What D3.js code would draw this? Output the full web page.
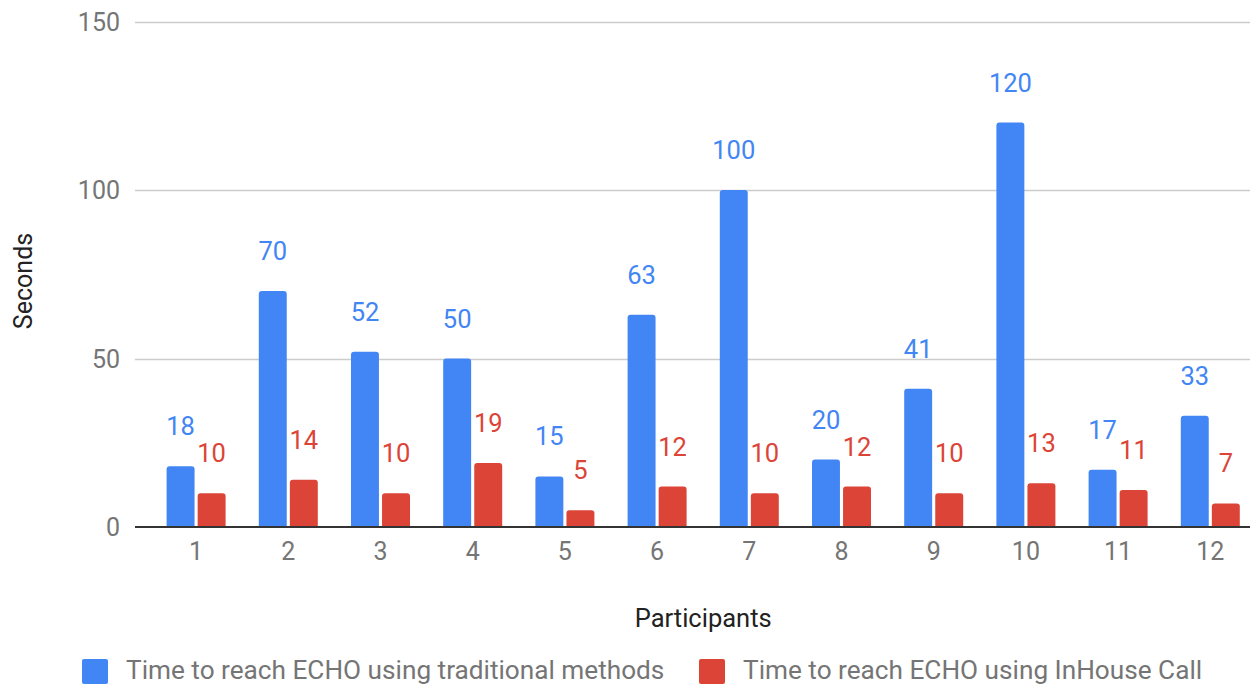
<!DOCTYPE html>
<html>
<head>
<meta charset="utf-8">
<script src="https://cdn.jsdelivr.net/npm/d3@7"></script>
<style>
  html, body { margin: 0; padding: 0; background: #fff; }
  svg { display: block; font-family: Roboto, "Noto Sans", Arial, sans-serif; }
</style>
</head>
<body>
<svg id="chart" width="1250" height="686"></svg>
<script>
// Participants on the x axis
const participants = ["1", "2", "3", "4", "5", "6", "7", "8", "9", "10", "11", "12"];
// Seconds needed to reach ECHO, per participant
const traditional = [18, 70, 52, 50, 15, 63, 100, 20, 41, 120, 17, 33];
const inHouse = [10, 14, 10, 19, 5, 12, 10, 12, 10, 13, 11, 7];
const seriesNames = [
  "Time to reach ECHO using traditional methods",
  "Time to reach ECHO using InHouse Call"
];
const seriesColors = ["#4285f4", "#db4437"];
const yTicks = [0, 50, 100, 150];

const series = [traditional, inHouse];

const svg = d3.select("#chart");

const gridLeft = 135, gridRight = 1250;
const y = d3.scaleLinear().domain([0, 150]).range([527, 21.5]);
const x0 = d3.scaleBand().domain(participants).range([150, 1256.4]).padding(0);
const groupW = 59;
const x1 = d3.scaleBand().domain(d3.range(series.length)).range([0, groupW]).paddingInner(0.1);

// horizontal gridlines
svg.append("g").selectAll("line")
  .data(yTicks.filter(t => t !== 0))
  .join("line")
  .attr("x1", gridLeft).attr("x2", gridRight)
  .attr("y1", d => Math.round(y(d)) + 0.5).attr("y2", d => Math.round(y(d)) + 0.5)
  .attr("stroke", "#cccccc").attr("stroke-width", 1.5);

// y tick labels
svg.append("g").selectAll("text")
  .data(yTicks)
  .join("text")
  .attr("x", 120)
  .attr("y", d => y(d) + 9)
  .attr("text-anchor", "end")
  .attr("font-size", 25)
  .attr("fill", "#757575")
  .text(d => d);

// bars
const rows = participants.map((p, i) => ({ p, vals: series.map(s => s[i]) }));
const groups = svg.append("g").selectAll("g")
  .data(rows)
  .join("g")
  .attr("transform", d => `translate(${x0(d.p) + x0.bandwidth() / 2 - groupW / 2},0)`);

groups.selectAll("path.bar")
  .data(d => d.vals.map((v, k) => ({ v, k })))
  .join("path")
  .attr("class", "bar")
  .attr("fill", d => seriesColors[d.k])
  .attr("d", d => {
    const bx = x1(d.k), bw = x1.bandwidth();
    const top = y(d.v), bot = y(0), r = 3;
    return `M${bx},${bot} L${bx},${top + r} Q${bx},${top} ${bx + r},${top} ` +
      `L${bx + bw - r},${top} Q${bx + bw},${top} ${bx + bw},${top + r} L${bx + bw},${bot} Z`;
  });

// value labels
groups.selectAll("text.val")
  .data(d => d.vals.map((v, k) => ({ v, k })))
  .join("text")
  .attr("class", "val")
  .attr("x", d => x1(d.k) + x1.bandwidth() / 2)
  .attr("y", d => y(d.v) - 31)
  .attr("text-anchor", "middle")
  .attr("font-size", 25.5)
  .attr("fill", d => seriesColors[d.k])
  .text(d => d.v);

// baseline
svg.append("line")
  .attr("x1", gridLeft).attr("x2", gridRight)
  .attr("y1", y(0)).attr("y2", y(0))
  .attr("stroke", "#333333").attr("stroke-width", 2);

// x tick labels
svg.append("g").selectAll("text")
  .data(participants)
  .join("text")
  .attr("x", d => x0(d) + x0.bandwidth() / 2)
  .attr("y", 560)
  .attr("text-anchor", "middle")
  .attr("font-size", 25)
  .attr("fill", "#757575")
  .text(d => d);

// axis titles
svg.append("text")
  .attr("x", (x0.range()[0] + x0.range()[1]) / 2)
  .attr("y", 627)
  .attr("text-anchor", "middle")
  .attr("font-size", 25.5)
  .attr("fill", "#222222")
  .text("Participants");

svg.append("text")
  .attr("transform", "translate(32,281) rotate(-90)")
  .attr("text-anchor", "middle")
  .attr("font-size", 25)
  .attr("fill", "#222222")
  .text("Seconds");

// legend
const legendX = [82, 699];
const legend = svg.append("g").selectAll("g")
  .data(seriesNames)
  .join("g")
  .attr("transform", (d, i) => `translate(${legendX[i]},659)`);
legend.append("rect")
  .attr("width", 26).attr("height", 25).attr("rx", 2)
  .attr("fill", (d, i) => seriesColors[i]);
legend.append("text")
  .attr("x", 44)
  .attr("y", 20)
  .attr("font-size", 26.2)
  .attr("fill", "#757575")
  .text(d => d);
</script>
</body>
</html>
